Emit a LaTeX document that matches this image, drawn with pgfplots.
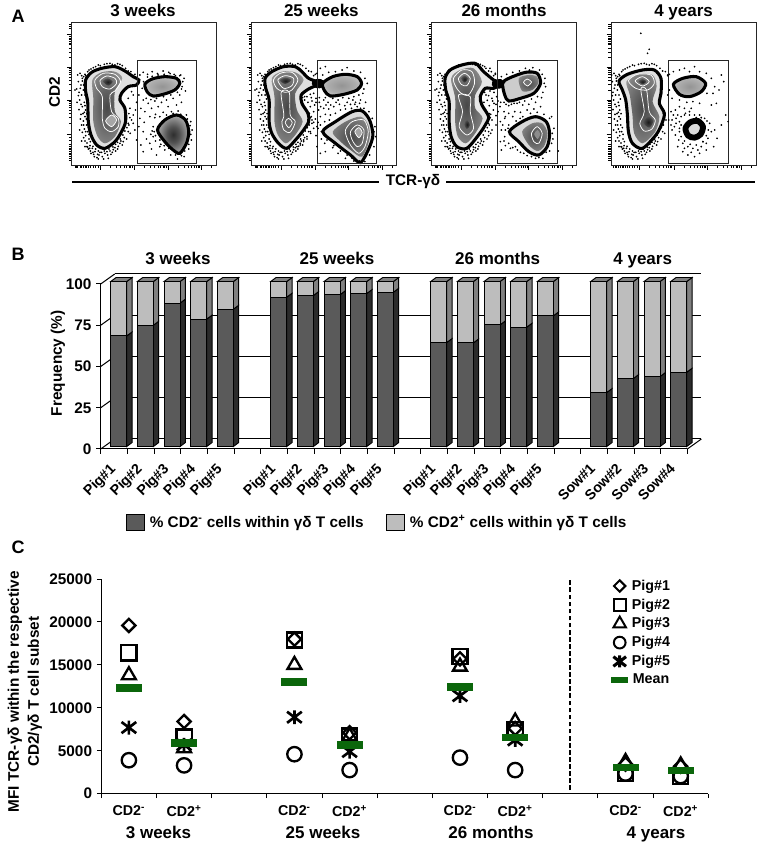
\documentclass[border=0pt]{standalone}
\usepackage{fontspec}
\setmainfont{Liberation Sans}
\usepackage{pgfplots}
\usepackage{pgfplotstable}
\pgfplotsset{compat=1.18}

% sizes: 1 px of the reference = 0.75pt
\newcommand{\ftitle}{\fontsize{12.75}{14}\selectfont\bfseries}
\newcommand{\flabel}{\fontsize{11.5}{15}\selectfont\bfseries}
\newcommand{\fsmall}{\fontsize{10.7}{12}\selectfont\bfseries}
\newcommand{\fpanel}{\fontsize{13.5}{15}\selectfont\bfseries}

\definecolor{barDark}{HTML}{5A5A5A}
\definecolor{barLight}{HTML}{BDBDBD}
\definecolor{sideDark}{HTML}{2B2B2B}
\definecolor{sideLight}{HTML}{808080}
\definecolor{meanGreen}{HTML}{0B660B}

\pgfdeclareradialshading{blobdark}{\pgfpoint{0bp}{0bp}}{color(0bp)=(black!82);color(10bp)=(black!68);color(34bp)=(black!15);color(50bp)=(black!6)}
\pgfdeclareradialshading{blobmid}{\pgfpoint{0bp}{0bp}}{color(0bp)=(black!42);color(18bp)=(black!32);color(40bp)=(black!8);color(50bp)=(black!4)}
\pgfdeclareradialshading{blobfill}{\pgfpoint{0bp}{0bp}}{color(0bp)=(black!72);color(25bp)=(black!50);color(50bp)=(black!12)}
\pgfdeclareradialshading{peak}{\pgfpoint{0bp}{0bp}}{color(0bp)=(black!90);color(50bp)=(black!45)}

% six-armed cross used for Pig#5
\pgfdeclareplotmark{xstar}{%
  \pgfpathmoveto{\pgfqpoint{-0.95\pgfplotmarksize}{-0.72\pgfplotmarksize}}
  \pgfpathlineto{\pgfqpoint{0.95\pgfplotmarksize}{0.72\pgfplotmarksize}}
  \pgfpathmoveto{\pgfqpoint{-0.95\pgfplotmarksize}{0.72\pgfplotmarksize}}
  \pgfpathlineto{\pgfqpoint{0.95\pgfplotmarksize}{-0.72\pgfplotmarksize}}
  \pgfpathmoveto{\pgfqpoint{0pt}{-0.9\pgfplotmarksize}}
  \pgfpathlineto{\pgfqpoint{0pt}{0.9\pgfplotmarksize}}
  \pgfusepathqstroke}

% closed contour in the flow plots
\newcommand{\blob}[2]{\addplot[forget plot,smooth cycle,#1] coordinates {#2};}
\tikzset{outer/.style={draw=black,line width=2.3pt}}
\tikzset{ring/.style={draw=white,line width=0.55pt,fill=none}}

% events outside the contours, left population (same scatter for all panels)
\pgfplotstableread[row sep=\\]{x y\\
38 180\\45 175\\52 190\\40 200\\48 210\\35 222\\55 225\\50 240\\44 255\\58 262\\52 275\\62 285\\48 298\\60 305\\55 318\\
65 330\\58 342\\68 350\\62 362\\72 372\\66 384\\75 392\\82 400\\70 402\\90 410\\78 415\\98 418\\88 425\\105 412\\112 425\\
120 415\\128 420\\135 408\\142 412\\150 398\\158 402\\165 385\\172 390\\178 368\\185 372\\190 350\\196 355\\192 330\\200 315\\
60 178\\72 165\\85 158\\100 150\\118 148\\135 145\\150 150\\165 148\\182 160\\198 170\\210 178\\100 432\\60 395\\30 225\\
50 182\\42 232\\66 395\\84 412\\96 428\\118 408\\145 404\\168 378\\56 330\\52 352\\
52 198\\56 210\\60 240\\64 252\\60 272\\66 296\\64 312\\70 338\\72 358\\76 380\\84 394\\92 402\\100 408\\110 412\\126 410\\
132 402\\144 396\\152 388\\158 382\\166 372\\174 360\\180 348\\186 338\\190 325\\195 308\\192 296\\56 185\\62 182\\68 170\\78 162\\
92 155\\106 152\\126 146\\142 148\\158 146\\172 152\\190 168\\205 182\\46 220\\40 242\\36 262\\48 268\\42 284\\54 296\\46 312\\
50 330\\44 345\\56 368\\50 378\\60 378\\68 396\\76 408\\86 418\\102 420\\116 432\\130 430\\138 418\\152 408\\160 394\\175 380\\
62 350\\74 400\\58 292\\
}\dotsL
\pgfplotstableread[row sep=\\]{x y\\
225 180\\235 172\\248 178\\262 170\\278 176\\295 168\\312 172\\328 178\\345 182\\358 190\\352 215\\362 228\\345 240\\325 250\\305 255\\
290 262\\270 258\\250 265\\235 255\\222 240\\215 262\\205 240\\200 230\\228 280\\240 290\\260 280\\280 275\\310 275\\335 270\\350 262\\
225 310\\238 322\\255 305\\272 298\\295 292\\320 290\\340 288\\365 300\\378 320\\382 345\\380 375\\372 402\\358 425\\338 432\\318 420\\
300 405\\285 395\\265 365\\255 385\\235 350\\245 372\\228 390\\235 410\\260 402\\275 420\\222 335\\210 345\\205 325\\215 375\\265 335\\
195 280\\205 300\\212 285\\190 250\\
236 200\\232 220\\244 250\\258 254\\275 250\\296 245\\318 240\\338 232\\350 222\\354 200\\348 180\\332 182\\316 176\\298 178\\280 180\\
262 184\\248 186\\270 308\\285 305\\305 300\\325 295\\348 298\\368 312\\376 332\\378 358\\372 388\\360 408\\350 422\\332 420\\312 400\\
298 392\\285 375\\272 362\\268 350\\262 348\\258 358\\272 378\\288 388\\
}\dotsPa
\pgfplotstableread[row sep=\\]{x y\\
175 235\\185 245\\195 238\\205 235\\212 250\\200 258\\188 262\\178 255\\195 275\\208 270\\222 262\\235 255\\248 262\\262 250\\278 255\\
292 248\\310 250\\325 245\\340 240\\352 235\\345 255\\330 262\\315 268\\298 272\\282 268\\265 275\\250 282\\235 280\\220 285\\205 290\\
198 305\\210 312\\225 305\\240 298\\255 300\\270 295\\285 285\\300 282\\318 280\\335 275\\355 280\\370 290\\380 310\\388 335\\390 365\\
385 395\\372 420\\358 440\\325 438\\305 420\\285 408\\265 392\\245 375\\228 372\\212 362\\205 340\\195 350\\185 365\\175 375\\165 390\\
155 395\\215 395\\225 415\\240 410\\225 330\\238 320\\252 315\\218 340\\232 180\\250 172\\270 170\\290 165\\305 158\\325 168\\345 172\\
358 190\\365 205\\355 222\\225 160\\215 175\\240 155\\182 285\\192 295\\205 322\\218 322\\
222 248\\240 248\\272 262\\305 262\\322 255\\342 265\\360 262\\178 245\\172 248\\198 248\\212 262\\226 275\\242 270\\256 270\\190 305\\
200 325\\215 335\\228 350\\240 338\\250 368\\238 385\\262 398\\278 415\\300 430\\320 430\\342 438\\378 380\\385 350\\376 330\\362 300\\
345 280\\328 268\\
}\dotsPb
\pgfplotstableread[row sep=\\]{x y\\
172 232\\182 240\\194 228\\206 232\\214 245\\200 250\\186 256\\176 262\\192 272\\206 265\\218 258\\204 285\\196 298\\212 302\\224 275\\
236 262\\250 272\\266 265\\282 262\\298 258\\318 252\\336 245\\352 232\\360 215\\358 190\\342 165\\322 158\\300 160\\282 168\\262 172\\
244 178\\228 185\\210 175\\194 160\\178 155\\236 290\\250 295\\268 290\\285 292\\305 285\\325 282\\345 275\\238 310\\225 320\\212 330\\
200 345\\190 362\\228 345\\238 365\\225 380\\240 392\\228 405\\255 400\\270 395\\285 412\\305 422\\330 430\\352 430\\372 408\\382 372\\
385 340\\378 305\\398 408\\218 290\\262 305\\284 310\\250 330\\
178 232\\190 242\\202 258\\212 268\\226 262\\242 268\\258 268\\275 265\\292 270\\310 268\\330 262\\348 248\\356 205\\350 178\\312 165\\
240 305\\232 330\\240 345\\248 340\\236 378\\250 385\\262 398\\276 405\\295 415\\318 425\\340 428\\362 412\\378 385\\380 355\\372 310\\
355 298\\335 292\\315 295\\292 305\\272 318\\
}\dotsPc
\pgfplotstableread[row sep=\\]{x y\\
240 320\\230 310\\222 300\\215 290\\228 285\\240 275\\255 280\\270 290\\285 300\\300 300\\315 310\\330 325\\335 350\\325 370\\320 385\\
305 395\\295 405\\280 400\\265 395\\250 385\\238 375\\228 360\\218 345\\215 330\\208 315\\225 335\\240 350\\235 395\\250 410\\265 420\\
285 425\\300 415\\320 405\\345 345\\352 370\\342 395\\365 330\\385 320\\378 300\\350 265\\335 270\\300 265\\280 260\\262 262\\240 255\\
218 250\\205 240\\210 225\\205 180\\222 170\\240 165\\255 160\\270 170\\285 155\\300 170\\320 175\\335 190\\345 215\\358 225\\372 200\\
365 180\\322 235\\340 235\\125 55\\150 103\\145 115\\255 400\\275 412\\310 380\\
245 305\\255 300\\270 300\\290 308\\305 308\\322 318\\326 345\\320 362\\310 380\\290 390\\272 388\\255 378\\245 365\\240 340\\245 330\\
230 325\\218 315\\235 300\\258 295\\275 280\\
}\dotsPd

\pgfplotsset{
  flow/.style={
    scale only axis, width=108.5pt, height=107pt,
    y dir=reverse, anchor=south west, clip=true,
    ymin=22, ymax=450,
    tick align=outside, xtick pos=lower, ytick pos=left,
    xticklabels={}, yticklabels={},
    axis line style={draw=black!85,line width=0.7pt},
    tick style={black,line width=0.75pt},
    major tick length=3.6pt, minor tick length=2.2pt,
    ytick={58,157,257,358},
    minor ytick={30,35,40,65,70,75,80,85,90,100,112,127,161,166,172,179,187,197,209,227,261,266,272,279,287,297,309,327,368,378,388,395,400,405,410,415,420,425,430,436},
    title style={font=\ftitle,at={(axis description cs:0.5,1)},anchor=base,yshift=-1.3pt},
  },
  mark dots/.style={forget plot,only marks,mark=*,mark size=0.42pt,black},
  gate/.style={forget plot,draw=black!85,line width=0.7pt},
  flow x/.style={
    xtick={108,210,310,410},
    minor xtick={30,35,38,45,50,55,60,65,70,72,78,85,92,100,138,156,168,178,186,193,198,203,240,258,270,280,288,295,300,305,340,358,370,380,388,395,400,405,440},
  },
  flow xb/.style={
    xtick={122,224,324,424},
    minor xtick={44,49,52,59,64,69,74,79,84,86,92,99,106,114,152,170,182,192,200,207,212,217,254,272,284,294,302,309,314,319,354,372,384,394,402,409,414,419,454},
  },
}

% one 3D bar: category index, % CD2- cells
\newcommand{\tdbar}[2]{%
  \pgfmathsetmacro\xc{#1+0.675}%
  \pgfmathsetmacro\xl{#1+0.375}%
  \pgfmathsetmacro\xlb{#1+0.575}%
  \pgfmathsetmacro\xr{#1+0.975}%
  \pgfmathsetmacro\xrb{#1+1.175}%
  \pgfmathsetmacro\vf{#2+1.5}%
  \pgfmathsetmacro\vb{#2+3.92}%
  \addplot[forget plot,fill=sideDark,draw=black,line width=0.7pt] coordinates {(\xr,1.5) (\xrb,3.92) (\xrb,\vb) (\xr,\vf)} -- cycle;
  \addplot[forget plot,fill=sideLight,draw=black,line width=0.7pt] coordinates {(\xr,\vf) (\xrb,\vb) (\xrb,103.92) (\xr,101.5)} -- cycle;
  \addplot[forget plot,fill=sideLight,draw=black,line width=0.7pt] coordinates {(\xl,101.5) (\xlb,103.92) (\xrb,103.92) (\xr,101.5)} -- cycle;
  \addplot[forget plot,ybar,bar width=0.6,bar shift=0pt,yshift=1.875pt,fill=barLight,draw=black,line width=0.7pt] coordinates {(\xc,100)};
  \addplot[forget plot,ybar,bar width=0.6,bar shift=0pt,yshift=1.875pt,fill=barDark,draw=black,line width=0.7pt] coordinates {(\xc,#2)};
}

% MFI per age group and subset: x = position on the axis
\pgfplotstableread{
x     pigone pigtwo pigthree pigfour pigfive mean
0.5   19600  16400  13800    3900    7700    12300
1.5   8400   6600   5300     3300    5700    5900
3.5   18000  17900  15000    4600    8900    13000
4.5   7100   6700   6700     2750    4900    5650
6.5   15700  16000  14800    4200    11400   12400
7.5   7600   7500   8400     2750    6250    6550
9.5   3450   2350   3700     2350    nan     3030
10.5  3200   2050   3300     2050    nan     2680
}\mfi

\begin{document}
\begin{tikzpicture}[x=0.75pt,y=0.75pt]
\useasboundingbox (0,0) rectangle (759,846);
\coordinate (a1) at (71.7,681);
\coordinate (a2) at (251.7,681);
\coordinate (a3) at (431.7,681);
\coordinate (a4) at (611.3,681);
\coordinate (bb) at (100.7,397);
\coordinate (cc) at (101.3,52.3);

% ---- A: flow cytometry panels ----
\begin{axis}[flow,flow x,at={(a1)},xmin=20,xmax=455,title={3 weeks},title style={xshift=-0.7pt}]
\addplot[mark dots] table[x=x,y=y] {\dotsL};
\addplot[mark dots] table[x=x,y=y] {\dotsPa};
\blob{outer,fill=black!12}{(62,195) (80,172) (110,160) (150,155) (180,168) (205,185) (222,195) (215,210) (190,215) (170,235) (165,255) (180,280) (182,320) (170,350) (150,380) (120,400) (95,390) (78,360) (70,320) (68,260) (62,230)}
\blob{draw=none,shading=blobfill}{(82,195) (110,172) (150,170) (172,190) (150,230) (150,290) (168,320) (150,365) (120,385) (98,365) (85,320) (85,250)}
\blob{ring}{(90,195) (115,175) (150,178) (167,200) (150,228) (135,240) (140,290) (160,310) (160,335) (140,350) (120,340) (112,310) (112,245) (95,220)}
\blob{ring}{(105,197) (125,183) (150,190) (155,205) (135,222) (112,215)}
\blob{draw=none,shading=peak}{(114,199) (128,190) (143,200) (130,212)}
\blob{ring,fill=black!35}{(122,318) (140,300) (155,315) (140,335)}
\blob{outer,shading=blobmid}{(240,208) (262,192) (300,185) (335,190) (345,205) (330,225) (295,238) (265,243) (248,232)}
\blob{outer,shading=blobdark}{(278,345) (300,315) (335,300) (362,315) (372,350) (365,385) (345,415) (325,405) (300,380)}
\addplot[gate] coordinates {(218,136) (396,136) (396,445) (218,445)} -- cycle;
\end{axis}

\begin{axis}[flow,flow x,at={(a2)},xmin=20,xmax=452,title={25 weeks},title style={xshift=-2pt}]
\addplot[mark dots] table[x=x,y=y] {\dotsL};
\addplot[mark dots] table[x=x,y=y] {\dotsPb};
\blob{outer,fill=black!12}{(60,190) (80,170) (115,155) (150,155) (170,170) (190,190) (222,205) (190,222) (168,240) (170,265) (188,295) (190,320) (175,345) (155,370) (125,400) (100,385) (80,355) (72,320) (72,255) (62,220)}
\blob{draw=none,shading=blobfill}{(80,190) (110,170) (150,172) (175,195) (150,235) (155,285) (172,320) (150,360) (122,385) (98,360) (88,320) (88,245)}
\blob{ring}{(85,195) (105,175) (140,172) (158,195) (140,225) (120,232) (95,220)}
\blob{ring}{(98,195) (120,182) (145,190) (140,212) (115,220)}
\blob{draw=none,shading=peak}{(104,196) (120,188) (138,195) (120,207)}
\blob{ring}{(108,232) (132,232) (135,300) (150,320) (135,352) (116,345) (110,320) (116,300)}
\blob{ring,fill=black!60}{(120,322) (130,310) (141,322) (131,338)}
\blob{draw=black,line width=2.4pt,fill=black}{(205,200) (225,197) (238,208) (222,215) (208,212)}
\blob{outer,shading=blobmid}{(232,205) (262,185) (300,178) (335,185) (348,205) (335,225) (295,238) (255,243) (238,228)}
\blob{outer,fill=black!15}{(232,350) (270,320) (320,290) (350,288) (372,315) (382,360) (370,400) (345,443) (315,420) (270,385)}
\blob{draw=none,shading=blobfill}{(262,350) (300,320) (345,305) (368,330) (372,370) (350,425) (315,405) (280,375)}
\blob{ring}{(300,345) (320,320) (355,315) (368,350) (358,395) (340,415) (318,395) (305,370)}
\blob{ring}{(315,350) (335,330) (355,345) (350,385) (335,395) (320,375)}
\blob{ring,fill=black!35}{(328,350) (340,338) (350,352) (340,368)}
\addplot[gate] coordinates {(216,136) (394,136) (394,445) (216,445)} -- cycle;
\end{axis}

\begin{axis}[flow,flow x,at={(a3)},xmin=20,xmax=452,title={26 months}]
\addplot[mark dots] table[x=x,y=y] {\dotsL};
\addplot[mark dots] table[x=x,y=y] {\dotsPc};
\blob{outer,fill=black!10}{(60,190) (75,165) (110,150) (150,145) (175,170) (205,195) (225,205) (205,220) (180,220) (165,245) (170,270) (190,305) (180,330) (160,360) (125,400) (95,395) (78,365) (72,320) (72,260) (62,225)}
\blob{draw=none,shading=blobfill}{(78,190) (105,165) (145,160) (170,200) (150,240) (150,280) (172,310) (150,355) (122,385) (98,365) (90,320) (90,250)}
\blob{ring}{(85,190) (110,165) (140,170) (148,205) (130,240) (108,235) (92,215)}
\blob{ring}{(100,190) (118,175) (135,190) (125,212) (108,208)}
\blob{draw=none,shading=peak}{(108,190) (118,182) (128,191) (118,203)}
\blob{ring}{(100,240) (135,245) (135,290) (145,340) (125,360) (102,335) (112,290)}
\blob{draw=none,shading=peak}{(117,328) (125,315) (134,330) (125,342)}
\blob{draw=black,line width=2.4pt,fill=black}{(205,203) (225,197) (236,208) (222,216) (208,214)}
\blob{outer,fill=black!20}{(232,205) (250,190) (300,172) (335,175) (345,205) (325,235) (285,250) (250,258) (238,240)}
\blob{draw=none,shading=blobfill}{(280,190) (310,180) (335,185) (338,205) (320,225) (290,228)}
\blob{ring,fill=black!55}{(294,202) (305,192) (318,201) (306,213)}
\blob{outer,fill=black!15}{(252,350) (290,320) (330,305) (362,320) (372,355) (365,395) (340,420) (310,410) (280,380)}
\blob{draw=none,shading=blobfill}{(290,350) (320,325) (350,325) (366,355) (355,395) (335,408) (310,390)}
\blob{ring}{(318,355) (335,335) (350,355) (340,385) (325,380)}
\blob{draw=none,fill=black!45}{(326,357) (336,345) (344,357) (336,372)}
\addplot[gate] coordinates {(217,136) (395,136) (395,445) (217,445)} -- cycle;
\end{axis}

\begin{axis}[flow,flow xb,at={(a4)},xmin=37,xmax=468,title={4 years}]
\addplot[mark dots] table[x=x,y=y] {\dotsL};
\addplot[mark dots] table[x=x,y=y] {\dotsPd};
\blob{outer,fill=black!12}{(60,198) (85,178) (130,165) (165,165) (185,190) (185,235) (180,265) (195,295) (188,325) (170,360) (130,400) (100,385) (88,350) (85,300) (80,255) (70,225)}
\blob{draw=none,shading=blobfill}{(82,200) (115,178) (160,180) (172,215) (160,260) (180,305) (168,350) (130,385) (105,355) (100,300) (92,240)}
\blob{ring}{(88,197) (115,178) (155,180) (165,205) (145,225) (110,220)}
\blob{ring}{(108,198) (130,185) (150,200) (130,213)}
\blob{draw=none,shading=peak}{(118,199) (130,192) (142,200) (130,208)}
\blob{ring}{(125,222) (142,225) (150,290) (168,315) (158,342) (135,348) (122,325) (135,290)}
\blob{draw=none,shading=peak}{(132,322) (148,305) (162,318) (150,338)}
\blob{outer,shading=blobmid}{(222,208) (250,190) (290,185) (318,205) (305,230) (270,245) (240,238)}
\blob{draw=black,line width=4.4pt,fill=black!14}{(258,340) (272,322) (295,318) (310,335) (303,358) (285,368) (266,362)}
\addplot[gate] coordinates {(208,136) (387,136) (387,445) (208,445)} -- cycle;
\end{axis}

\draw[black,line width=1.6pt] (72,664) -- (379,664);
\draw[black,line width=1.6pt] (446,664) -- (755,664);
\node[font=\flabel] at (413,664) {TCR-γδ};
\node[font=\flabel,rotate=90] at (54.5,754) {CD2};
\node[font=\fpanel] at (18,830) {A};
\node[font=\fpanel] at (18,592) {B};
\node[font=\fpanel] at (18,299) {C};

% ---- B: stacked frequency bars ----
\begin{axis}[
  scale only axis, width=440pt, height=123.75pt,
  at={(bb)}, anchor=south west, clip=false,
  xmin=0, xmax=22, ymin=0, ymax=100,
  axis x line*=bottom, axis y line*=left,
  axis line style={black,line width=0.75pt,-},
  tick style={black,line width=0.75pt},
  tick align=outside, major tick length=3.4pt,
  xtick={0,1,...,22}, xticklabels={},
  ytick={0,25,50,75,100},
  tick label style={font=\flabel},
  /pgf/number format/assume math mode=true,
  extra x ticks={0.5,1.5,2.5,3.5,4.5,6.5,7.5,8.5,9.5,10.5,12.5,13.5,14.5,15.5,16.5,18.5,19.5,20.5,21.5},
  extra x tick labels={Pig\#1,Pig\#2,Pig\#3,Pig\#4,Pig\#5,Pig\#1,Pig\#2,Pig\#3,Pig\#4,Pig\#5,Pig\#1,Pig\#2,Pig\#3,Pig\#4,Pig\#5,Sow\#1,Sow\#2,Sow\#3,Sow\#4},
  extra x tick style={major tick length=0pt,xticklabel style={rotate=45,anchor=north east,font=\fsmall,inner sep=1pt,xshift=-8.7pt,yshift=-3.2pt}},
  ylabel={Frequency (\%)},
  every axis y label/.style={at={(axis description cs:-0.073,0.52)},rotate=90,anchor=center,font=\flabel},
  legend columns=2,
  legend style={at={(axis description cs:0.043,-0.446)},anchor=west,draw=none,fill=none,font=\flabel,
    /tikz/every even column/.style={column sep=15pt},/tikz/every odd column/.style={column sep=2pt},inner sep=0pt},
  legend image code/.code={\draw[#1,line width=0.75pt] (0pt,-6.2pt) rectangle (13pt,6.2pt);},
]
% back wall and left wall
\addplot[forget plot,black,line width=0.75pt] coordinates {(0.525,6.06) (22.525,6.06)};
\addplot[forget plot,black,line width=0.75pt] coordinates {(0.525,31.06) (22.525,31.06)};
\addplot[forget plot,black,line width=0.75pt] coordinates {(0.525,56.06) (22.525,56.06)};
\addplot[forget plot,black,line width=0.75pt] coordinates {(0.525,81.06) (22.525,81.06)};
\addplot[forget plot,black,line width=0.75pt] coordinates {(0.525,106.06) (22.525,106.06)};
\addplot[forget plot,black,line width=0.75pt] coordinates {(0,0) (0.525,6.06)};
\addplot[forget plot,black,line width=0.75pt] coordinates {(0,25) (0.525,31.06)};
\addplot[forget plot,black,line width=0.75pt] coordinates {(0,50) (0.525,56.06)};
\addplot[forget plot,black,line width=0.75pt] coordinates {(0,75) (0.525,81.06)};
\addplot[forget plot,black,line width=0.75pt] coordinates {(0,100) (0.525,106.06)};
\addplot[forget plot,black,line width=0.75pt] coordinates {(22,0) (22.525,6.06)};
% 3 weeks
\tdbar{0}{67} \tdbar{1}{73.5} \tdbar{2}{86.9} \tdbar{3}{77.2} \tdbar{4}{83.2}
% 25 weeks
\tdbar{6}{90.5} \tdbar{7}{91.5} \tdbar{8}{92} \tdbar{9}{92.7} \tdbar{10}{93.5}
% 26 months
\tdbar{12}{63} \tdbar{13}{62.8} \tdbar{14}{73.7} \tdbar{15}{72.3} \tdbar{16}{79.2}
% 4 years
\tdbar{18}{32.7} \tdbar{19}{41.2} \tdbar{20}{42.4} \tdbar{21}{45}
\addlegendimage{fill=barDark,draw=black}
\addlegendentry{\% CD2\textsuperscript{-} cells within γδ T cells}
\addlegendimage{fill=barLight,draw=black}
\addlegendentry{\% CD2\textsuperscript{+} cells within γδ T cells}
\end{axis}
\node[font=\ftitle,anchor=base] at (178,581.5) {3 weeks};
\node[font=\ftitle,anchor=base] at (337,581.5) {25 weeks};
\node[font=\ftitle,anchor=base] at (497.7,581.5) {26 months};
\node[font=\ftitle,anchor=base] at (642.7,581.5) {4 years};

% ---- C: MFI scatter ----
\begin{axis}[
  scale only axis, width=455.25pt, height=161pt,
  at={(cc)}, anchor=south west, clip=false,
  xmin=0, xmax=11, ymin=0, ymax=25000,
  axis x line*=bottom, axis y line*=left,
  axis line style={black,line width=0.75pt,-},
  tick style={black,line width=0.75pt},
  tick align=outside, major tick length=3.4pt,
  xtick={0,1,...,11}, xticklabels={},
  ytick={0,5000,10000,15000,20000,25000},
  tick label style={font=\flabel},
  scaled y ticks=false,
  /pgf/number format/assume math mode=true,
  /pgf/number format/1000 sep={},
  extra x ticks={0.5,1.5,3.5,4.5,6.5,7.5,9.5,10.5},
  extra x tick labels={CD2\textsuperscript{-},CD2\textsuperscript{+},CD2\textsuperscript{-},CD2\textsuperscript{+},CD2\textsuperscript{-},CD2\textsuperscript{+},CD2\textsuperscript{-},CD2\textsuperscript{+}},
  extra x tick style={major tick length=0pt,xticklabel style={font=\fsmall,yshift=-5.5pt}},
  ylabel={MFI TCR-γδ within the respective\\CD2/γδ T cell subset},
  every axis y label/.style={at={(axis description cs:-0.1257,0.475)},rotate=90,anchor=center,align=center,font=\flabel},
  legend style={at={(axis description cs:0.84,1.01)},anchor=north west,draw=none,fill=none,font=\fsmall,
    /tikz/every odd column/.style={column sep=1pt},row sep=0.9pt,inner sep=0pt},
  pm/.style={forget plot,only marks,mark options={solid,draw=black,fill=none,line width=1.75pt}},
]
\addplot[forget plot,black,line width=1.3pt,dash pattern=on 3.5pt off 1.8pt] coordinates {(8.5,430) (8.5,24970)};
\addplot[pm,mark=square,mark size=5.7pt] table[x=x,y=pigtwo] {\mfi};
\addplot[pm,mark=square,mark size=3.5pt,mark options={rotate=45,solid,draw=black,fill=none,line width=1.75pt}] table[x=x,y=pigone] {\mfi};
\addplot[pm,mark=triangle,mark size=6pt] table[x=x,y=pigthree] {\mfi};
\addplot[pm,mark=o,mark size=5.4pt] table[x=x,y=pigfour] {\mfi};
\addplot[forget plot,only marks,mark=xstar,mark size=5.8pt,mark options={draw=black,line width=2pt}] table[x=x,y=pigfive] {\mfi};
\addplot[forget plot,only marks,mark=-,mark size=9.75pt,mark options={draw=meanGreen,line width=5.6pt}] table[x=x,y=mean] {\mfi};
\addlegendimage{only marks,mark=square,mark size=3pt,mark options={rotate=45,solid,draw=black,fill=none,line width=1.5pt}}
\addlegendentry{Pig\#1}
\addlegendimage{only marks,mark=square,mark size=4.6pt,mark options={solid,draw=black,fill=none,line width=1.5pt}}
\addlegendentry{Pig\#2}
\addlegendimage{only marks,mark=triangle,mark size=5.4pt,mark options={solid,draw=black,fill=none,line width=1.5pt}}
\addlegendentry{Pig\#3}
\addlegendimage{only marks,mark=o,mark size=4.4pt,mark options={solid,draw=black,fill=none,line width=1.5pt}}
\addlegendentry{Pig\#4}
\addlegendimage{only marks,mark=xstar,mark size=5pt,mark options={draw=black,line width=2.3pt}}
\addlegendentry{Pig\#5}
\addlegendimage{only marks,mark=-,mark size=6.2pt,mark options={draw=meanGreen,line width=3.9pt}}
\addlegendentry{Mean}
\end{axis}
\node[font=\ftitle,anchor=base] at (158.5,7.5) {3 weeks};
\node[font=\ftitle,anchor=base] at (323,7.5) {25 weeks};
\node[font=\ftitle,anchor=base] at (491,7.5) {26 months};
\node[font=\ftitle,anchor=base] at (656,7.5) {4 years};
\end{tikzpicture}
\end{document}
